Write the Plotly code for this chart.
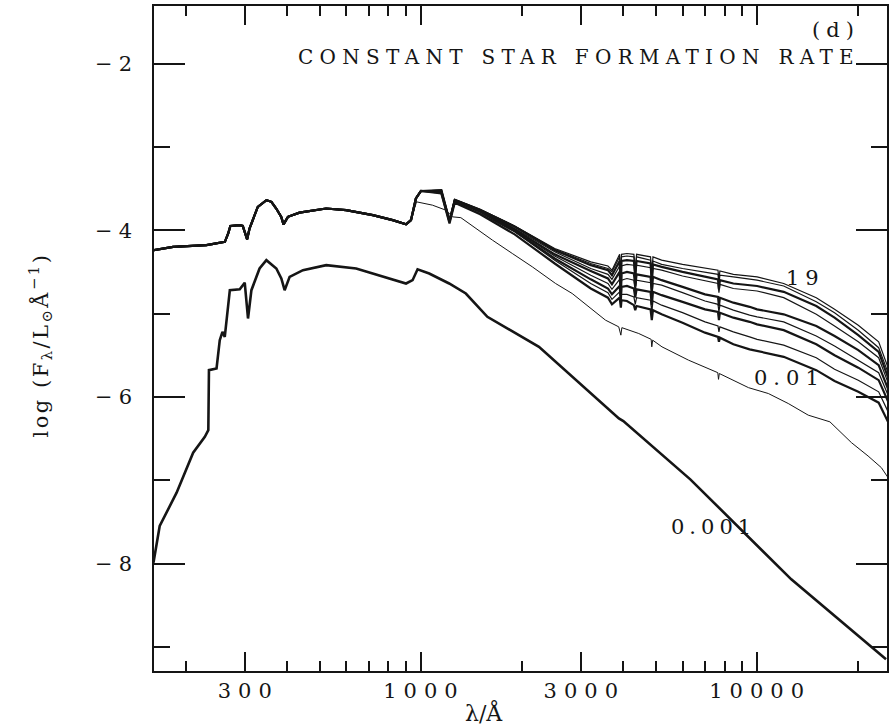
import numpy as np
import plotly.graph_objects as go

# ---- data (wavelength in Angstrom, log F_lambda) ----
# far-UV part shared by every curve older than 0.001 Gyr
uv_wl = [160, 183, 230, 249, 261, 267, 271, 289, 295, 304, 309, 327, 347, 359,
         371, 384, 390, 402, 435, 522, 599, 719, 824, 903, 934]
uv_logf = [-4.24, -4.20, -4.18, -4.16, -4.14, -4.04, -3.95, -3.94, -3.95, -4.11,
           -3.98, -3.72, -3.64, -3.66, -3.74, -3.84, -3.93, -3.84, -3.79, -3.74,
           -3.76, -3.82, -3.88, -3.93, -3.88]

# optical/IR grid for the older-age bundle
opt_wl = [966, 1000, 1150, 1216, 1260, 1500, 1900, 2500, 3200, 3600, 3700, 3900,
          3933, 3950, 4100, 4300, 4340, 4380, 4820, 4861, 4900, 5200, 6000, 7000,
          7650, 7700, 7750, 8500, 9500, 10000, 12000, 15000, 17000, 20000, 23000, 25000]

bundle_ages = ["19", "15", "10", "5", "2", "1", "0.5", "0.2", "0.1"]
bundle_logf = [
    [-3.62, -3.53, -3.52, -3.89, -3.63, -3.75, -3.95, -4.22, -4.38, -4.43, -4.48, -4.29,
     -4.66, -4.29, -4.28, -4.29, -4.48, -4.29, -4.32, -4.54, -4.32, -4.36, -4.41, -4.46,
     -4.48, -4.60, -4.49, -4.53, -4.55, -4.56, -4.64, -4.81, -4.95, -5.14, -5.34, -5.74],
    [-3.62, -3.53, -3.52, -3.89, -3.63, -3.75, -3.95, -4.23, -4.40, -4.46, -4.50, -4.32,
     -4.69, -4.32, -4.31, -4.32, -4.50, -4.32, -4.36, -4.58, -4.37, -4.41, -4.46, -4.50,
     -4.53, -4.65, -4.54, -4.56, -4.59, -4.60, -4.67, -4.86, -4.99, -5.20, -5.41, -5.80],
    [-3.62, -3.53, -3.52, -3.89, -3.64, -3.76, -3.96, -4.24, -4.42, -4.48, -4.54, -4.37,
     -4.72, -4.37, -4.36, -4.37, -4.54, -4.37, -4.40, -4.62, -4.41, -4.44, -4.50, -4.56,
     -4.59, -4.71, -4.60, -4.64, -4.66, -4.67, -4.74, -4.91, -5.05, -5.26, -5.46, -5.86],
    [-3.62, -3.53, -3.53, -3.89, -3.64, -3.76, -3.98, -4.26, -4.46, -4.53, -4.59, -4.43,
     -4.74, -4.43, -4.41, -4.42, -4.60, -4.42, -4.45, -4.67, -4.46, -4.48, -4.55, -4.61,
     -4.64, -4.75, -4.65, -4.70, -4.72, -4.73, -4.81, -5.01, -5.15, -5.34, -5.53, -5.92],
    [-3.62, -3.53, -3.53, -3.89, -3.64, -3.77, -3.99, -4.29, -4.49, -4.58, -4.65, -4.50,
     -4.78, -4.52, -4.50, -4.52, -4.67, -4.53, -4.56, -4.74, -4.56, -4.60, -4.68, -4.77,
     -4.80, -4.91, -4.81, -4.87, -4.92, -4.95, -5.01, -5.15, -5.27, -5.44, -5.62, -5.99],
    [-3.62, -3.53, -3.53, -3.89, -3.65, -3.78, -4.00, -4.31, -4.54, -4.64, -4.71, -4.59,
     -4.81, -4.60, -4.58, -4.60, -4.74, -4.60, -4.63, -4.81, -4.64, -4.66, -4.75, -4.85,
     -4.89, -4.98, -4.90, -4.96, -5.02, -5.04, -5.10, -5.27, -5.39, -5.56, -5.71, -6.06],
    [-3.62, -3.53, -3.55, -3.90, -3.65, -3.78, -4.01, -4.34, -4.59, -4.70, -4.77, -4.67,
     -4.84, -4.68, -4.67, -4.70, -4.81, -4.71, -4.74, -4.90, -4.74, -4.78, -4.86, -4.95,
     -4.98, -5.08, -4.99, -5.05, -5.10, -5.13, -5.20, -5.37, -5.50, -5.65, -5.80, -6.13],
    [-3.62, -3.53, -3.55, -3.90, -3.67, -3.80, -4.02, -4.36, -4.64, -4.75, -4.83, -4.74,
     -4.89, -4.77, -4.77, -4.80, -4.89, -4.81, -4.84, -4.98, -4.85, -4.90, -4.99, -5.10,
     -5.15, -5.22, -5.16, -5.22, -5.28, -5.31, -5.38, -5.53, -5.67, -5.80, -5.94, -6.25],
    [-3.62, -3.53, -3.56, -3.92, -3.67, -3.81, -4.05, -4.40, -4.70, -4.81, -4.89, -4.81,
     -4.93, -4.84, -4.85, -4.90, -4.96, -4.91, -4.95, -5.08, -4.96, -5.01, -5.11, -5.23,
     -5.28, -5.34, -5.29, -5.37, -5.43, -5.45, -5.52, -5.68, -5.81, -5.94, -6.07, -6.37],
]
bundle_width = [1.2, 1.2, 2.2, 1.2, 2.2, 1.2, 2.2, 1.2, 2.2]

# 0.01 Gyr (thin line)
wl_001 = [970, 1082, 1186, 1241, 1314, 1456, 1576, 1632, 1870, 2144, 2515, 2818, 3540,
          3876, 3933, 3960, 4445, 4840, 4861, 4890, 5212, 6252, 7640, 7677, 7720, 9430,
          10800, 12380, 14200, 16470, 19090, 21390, 23430, 24360, 25000]
logf_001 = [-3.66, -3.70, -3.76, -3.84, -3.85, -3.98, -4.08, -4.12, -4.28, -4.44, -4.64,
            -4.76, -5.08, -5.16, -5.26, -5.17, -5.24, -5.31, -5.40, -5.32, -5.40, -5.56,
            -5.71, -5.79, -5.72, -5.89, -5.96, -6.08, -6.22, -6.30, -6.55, -6.71, -6.85,
            -6.95, -7.02]

# 0.001 Gyr (thick line)
wl_0001 = [160, 167, 187.5, 210, 227.5, 233, 234, 246.5, 252, 256.7, 260.8, 270, 289, 299,
           305.8, 313, 331, 346.8, 371.3, 384.2, 393, 406.7, 445.5, 522.5, 641.4, 752,
           902.8, 944.3, 977, 1058, 1213, 1360, 1576, 2244, 3880, 4000, 6328, 12640,
           18240, 24190]
logf_0001 = [-7.99, -7.55, -7.15, -6.67, -6.48, -6.40, -5.68, -5.66, -5.32, -5.22, -5.28,
             -4.72, -4.71, -4.63, -5.06, -4.72, -4.46, -4.36, -4.46, -4.58, -4.72, -4.56,
             -4.48, -4.42, -4.46, -4.54, -4.64, -4.60, -4.47, -4.52, -4.64, -4.76, -5.04,
             -5.40, -6.26, -6.29, -6.99, -8.19, -8.73, -9.15]

x_major = [300, 1000, 3000, 10000]
x_minor = [200, 400, 500, 600, 700, 800, 900, 2000, 4000, 5000, 6000, 7000, 8000, 9000, 20000]
y_major = [-2, -4, -6, -8]
y_minor = [-3, -5, -7, -9]

INK = "#151515"
FONT = "DejaVu Serif"


def spaced(txt, px):
    return f"<span style='letter-spacing:{px}px'>{txt}</span>"


fig = go.Figure()

for age, vals, w in zip(bundle_ages, bundle_logf, bundle_width):
    fig.add_trace(go.Scatter(x=uv_wl + opt_wl, y=uv_logf + vals, mode="lines",
                             line=dict(color=INK, width=w), name=age + " Gyr"))

fig.add_trace(go.Scatter(x=uv_wl + wl_001, y=uv_logf + logf_001, mode="lines",
                         line=dict(color=INK, width=1.0), name="0.01 Gyr"))
fig.add_trace(go.Scatter(x=wl_0001, y=logf_0001, mode="lines",
                         line=dict(color=INK, width=2.6), name="0.001 Gyr"))

axis_font = dict(family=FONT, size=21, color=INK)

fig.update_xaxes(
    type="log", range=[np.log10(160.6), np.log10(24350)],
    showline=True, linecolor=INK, linewidth=1.5, mirror="ticks",
    ticks="inside", ticklen=19, tickwidth=1.5, tickcolor=INK,
    tickvals=x_major,
    ticktext=[spaced(v, 7) for v in x_major],
    minor=dict(ticks="inside", ticklen=10, tickwidth=1.5, tickcolor=INK, tickvals=x_minor),
    showgrid=False, zeroline=False, tickfont=axis_font, ticklabelstandoff=0,
    ticklabelshift=3,
)
fig.update_yaxes(
    range=[-9.29, -1.31],
    showline=True, linecolor=INK, linewidth=1.5, mirror="ticks",
    ticks="inside", ticklen=31, tickwidth=1.5, tickcolor=INK,
    tickvals=y_major,
    ticktext=[spaced("\u2212" + str(abs(v)), 6) for v in y_major],
    minor=dict(ticks="inside", ticklen=16, tickwidth=1.5, tickcolor=INK, tickvals=y_minor),
    showgrid=False, zeroline=False, tickfont=axis_font, ticklabelstandoff=10,
)

ann_font = dict(family=FONT, size=21, color=INK)
annotations = [
    dict(x=np.log10(13620), y=-4.575, xref="x", yref="y", text=spaced("19", 6),
         showarrow=False, font=ann_font, xshift=3),
    dict(x=np.log10(12050), y=-5.77, xref="x", yref="y", text=spaced("0.01", 6),
         showarrow=False, font=ann_font, xshift=5),
    dict(x=np.log10(7270), y=-7.557, xref="x", yref="y", text=spaced("0.001", 5),
         showarrow=False, font=ann_font, xshift=3),
    dict(x=0.966, y=0.964, xref="paper", yref="paper", xanchor="right", yanchor="middle",
         text=spaced("(d)", 6), showarrow=False, font=ann_font),
    dict(x=0.966, y=0.923, xref="paper", yref="paper", xanchor="right", yanchor="middle",
         text=spaced("CONSTANT STAR FORMATION RATE", 6.3),
         showarrow=False, font=dict(family=FONT, size=20, color=INK)),
    dict(x=-0.155, y=0.49, xref="paper", yref="paper", xanchor="center", yanchor="middle",
         textangle=-90,
         text=spaced("log (F<sub>λ</sub>/L<sub>⊙</sub>Å<sup>−1</sup>)", 2.5),
         showarrow=False, font=dict(family=FONT, size=21, color=INK)),
    dict(x=0.45, y=-0.062, xref="paper", yref="paper", xanchor="center", yanchor="middle",
         text="λ/Å", showarrow=False, font=dict(family=FONT, size=22, color=INK)),
]

fig.update_layout(
    width=889, height=725,
    margin=dict(l=154, r=0, t=6, b=54),
    paper_bgcolor="white", plot_bgcolor="white",
    showlegend=False,
    annotations=annotations,
)

fig.write_html("out.html", config={"displayModeBar": False},
               post_script="document.body.style.margin='0';document.body.style.overflow='hidden';")
